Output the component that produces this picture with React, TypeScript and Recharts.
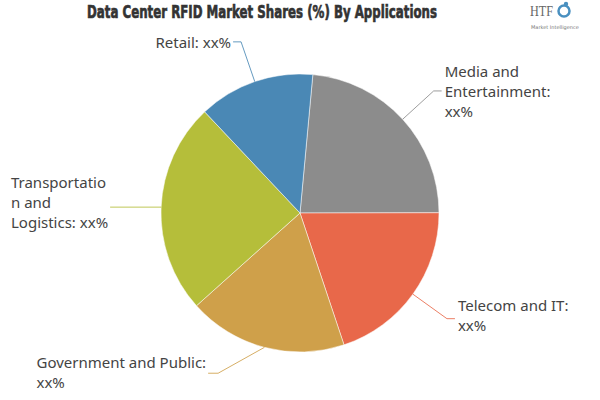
import React from "react";
import { PieChart, Pie, Cell } from "recharts";

// slice order, clockwise from just right of 12 o'clock
const categories = [
  "Media and Entertainment",
  "Telecom and IT",
  "Government and Public",
  "Transportation and Logistics",
  "Retail",
];
const shares = [23.5, 19.9, 18.5, 24.6, 13.5];
const labelLines = [
  ["Media and", "Entertainment:", "xx%"],
  ["Telecom and IT:", "xx%"],
  ["Government and Public:", "xx%"],
  ["Transportatio", "n and", "Logistics: xx%"],
  ["Retail: xx%"],
];
const sliceColors = ["#8c8c8c", "#e8684a", "#cfa04a", "#b5be3a", "#4a88b5"];

const title = "Data Center RFID Market Shares (%) By Applications";

const data = categories.map((name, i) => ({ name, value: shares[i] }));

// leader line tweaks (angle override / length / tail / vertical nudge)
const leader: { angle?: number; len: number; tail: number; dy: number }[] = [
  { len: 42, tail: 8, dy: 0 },
  { len: 42, tail: 8, dy: -4 },
  { angle: -150.8, len: 53, tail: 10, dy: -1 },
  { angle: 180, len: 51, tail: 0, dy: -5 },
  { len: 42, tail: 8, dy: 0 },
];

const FONT = '"Noto Sans", "Open Sans", sans-serif';
const RADIAN = Math.PI / 180;

let ctx: CanvasRenderingContext2D | null = null;
const measure = (s: string) => {
  if (!ctx) ctx = document.createElement("canvas").getContext("2d");
  if (!ctx) return s.length * 7.4;
  ctx.font = `15px ${FONT}`;
  return ctx.measureText(s).width;
};

const renderLabel = (props: any) => {
  const { cx, cy, midAngle, outerRadius, index } = props;
  const cfg = leader[index];
  const sx = cx + outerRadius * Math.cos(-midAngle * RADIAN);
  const sy = cy + outerRadius * Math.sin(-midAngle * RADIAN);
  const ang = cfg.angle ?? midAngle;
  const ex = sx + cfg.len * Math.cos(-ang * RADIAN);
  const ey = sy + cfg.len * Math.sin(-ang * RADIAN);
  const right = Math.cos(-ang * RADIAN) >= 0;
  const tx = right ? ex + cfg.tail : ex - cfg.tail;
  const lines = labelLines[index];
  const maxW = Math.max(...lines.map(measure));
  const textX = right ? tx + 3 : tx - 2 - maxW;
  const y0 = ey + cfg.dy - (lines.length - 1) * 10;
  const color = sliceColors[index];
  return (
    <g key={`lbl-${index}`}>
      <polyline
        points={`${sx},${sy} ${ex},${ey} ${tx},${ey}`}
        fill="none"
        stroke={color}
        strokeWidth={1}
        strokeOpacity={0.85}
      />
      <text
        x={textX}
        y={y0}
        fill="#444"
        fontFamily={FONT}
        fontSize={15}
        textAnchor="start"
        dominantBaseline="central"
      >
        {lines.map((l, i) => (
          <tspan key={i} x={textX} y={y0 + i * 20}>
            {l}
          </tspan>
        ))}
      </text>
    </g>
  );
};

export default function App() {
  return (
    <div
      style={{
        position: "absolute",
        left: 0,
        top: 0,
        width: 600,
        height: 400,
        background: "#fff",
      }}
    >
      <PieChart width={600} height={400} margin={{ top: 0, right: 0, bottom: 0, left: 0 }}>
        <Pie
          data={data}
          dataKey="value"
          nameKey="name"
          cx={300}
          cy={213}
          outerRadius={139}
          startAngle={84.7}
          endAngle={-275.3}
          stroke="#fff"
          strokeWidth={0.5}
          label={renderLabel}
          labelLine={false}
          isAnimationActive={false}
        >
          {data.map((d, i) => (
            <Cell key={d.name} fill={sliceColors[i]} />
          ))}
        </Pie>
      </PieChart>

      {/* title + logo overlay */}
      <svg
        width={600}
        height={400}
        style={{ position: "absolute", left: 0, top: 0, pointerEvents: "none" }}
      >
        <text
          transform="translate(87,18) scale(1,1.3)"
          x={0}
          y={0}
          fill="#333"
          stroke="#333"
          strokeWidth={0.5}
          fontFamily='"Liberation Sans Narrow", "DejaVu Sans Condensed", sans-serif'
          fontWeight="bold"
          fontSize={14}
          textLength={350}
          lengthAdjust="spacingAndGlyphs"
        >
          {title}
        </text>
        <text
          x={530}
          y={16}
          fill="#666"
          fontFamily='"Liberation Serif", serif'
          fontSize={14}
          textLength={23}
          lengthAdjust="spacingAndGlyphs"
        >
          HTF
        </text>
        <circle cx={564} cy={11} r={5.5} fill="none" stroke="#4a90c0" strokeWidth={2.5} />
        <circle cx={566} cy={4} r={2.2} fill="#4a90c0" />
        <text
          x={531}
          y={29}
          fill="#777"
          fontFamily='"DejaVu Sans", sans-serif'
          fontSize={5}
        >
          Market Intelligence
        </text>
      </svg>
    </div>
  );
}
